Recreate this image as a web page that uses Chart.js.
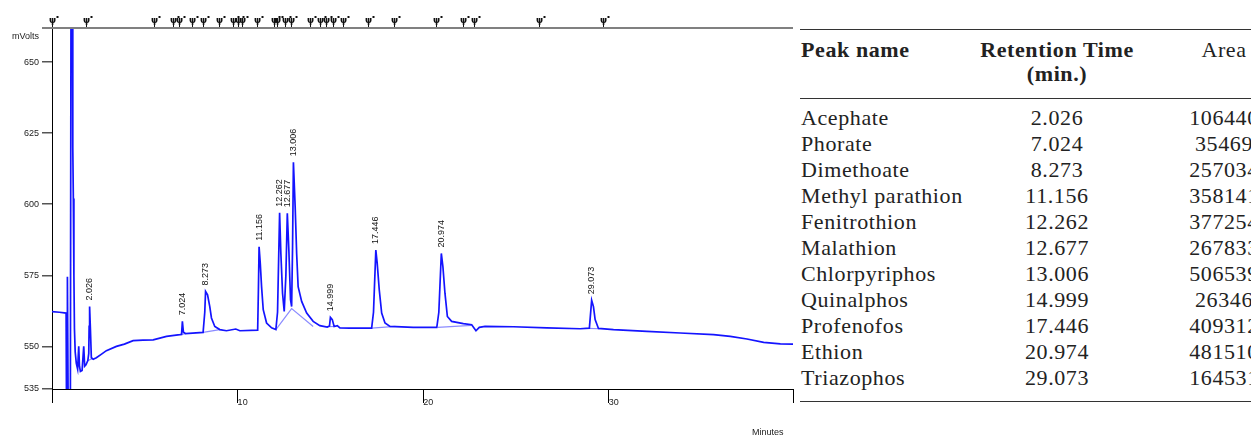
<!DOCTYPE html>
<html>
<head>
<meta charset="utf-8">
<script src="https://cdn.jsdelivr.net/npm/chart.js@4.4.0/dist/chart.umd.min.js"></script>
<style>
    html, body { margin: 0; padding: 0; background: #fff; }
    body { width: 1251px; height: 439px; overflow: hidden; position: relative; }
    #chartBox { position: absolute; left: 0; top: 0; width: 800px; height: 439px; }
    #peakTable {
        position: absolute; left: 800px; top: 29px; width: 504px;
        table-layout: fixed; border-collapse: collapse;
        font-family: "Liberation Serif", serif; font-size: 22px; letter-spacing: 0.6px; color: #222;
        border-top: 1.5px solid #333; border-bottom: 1.5px solid #333;
    }
    #peakTable th { font-weight: bold; vertical-align: top; line-height: 24px; padding: 8px 0 12px 0; border-bottom: 1.5px solid #333; }
    #peakTable th.plain { font-weight: normal; }
    #peakTable td { height: 26px; line-height: 26px; padding: 0; white-space: nowrap; }
    #peakTable tbody tr:first-child td { padding-top: 6px; }
    #peakTable tbody tr:last-child td { padding-bottom: 10px; }
    .c1 { width: 170px; text-align: left; padding-left: 1px !important; }
    .c2 { width: 174px; text-align: center; }
    .c3 { width: 160px; text-align: center; }
</style>
</head>
<body>
<div id="chartBox"><canvas id="chromChart"></canvas></div>
<table id="peakTable">
    <colgroup><col style="width:170px"><col style="width:174px"><col style="width:160px"></colgroup>
    <thead>
        <tr><th class="c1">Peak name</th><th class="c2">Retention Time<br>(min.)</th><th class="c3 plain">Area</th></tr>
    </thead>
    <tbody id="peakRows"></tbody>
</table>
<script>
(function() {
    'use strict';

    // Chromatogram trace (minutes, mVolts)
    const traceTimes = [
        0.00, 0.40, 0.76, 0.78, 0.81, 0.83, 0.87, 0.99, 1.03, 1.09,
        1.12, 1.15, 1.18, 1.21, 1.25, 1.31, 1.38, 1.44, 1.48, 1.53,
        1.62, 1.71, 1.76, 1.83, 1.93, 1.98, 2.00, 2.026, 2.07, 2.12,
        2.22, 2.39, 2.65, 2.93, 3.47, 3.90, 4.37, 4.90, 5.45, 6.17,
        6.89, 6.98, 7.024, 7.08, 7.19, 8.14, 8.23, 8.273, 8.38, 8.50,
        8.59, 8.77, 9.04, 9.40, 9.90, 10.12, 11.08, 11.12, 11.156, 11.22,
        11.29, 11.38, 11.56, 11.83, 12.06, 12.15, 12.262, 12.33, 12.42, 12.51,
        12.60, 12.677, 12.76, 12.85, 12.91, 12.96, 13.006, 13.10, 13.18, 13.26,
        13.45, 13.72, 14.07, 14.43, 14.83, 14.95, 14.999, 15.10, 15.20, 15.37,
        15.51, 16.05, 17.22, 17.32, 17.446, 17.52, 17.63, 17.76, 17.94, 18.21,
        19.46, 20.73, 20.84, 20.974, 21.06, 21.17, 21.30, 21.53, 22.16, 22.61,
        22.84, 23.02, 23.33, 24.86, 26.66, 28.45, 28.95, 29.073, 29.17, 29.26,
        29.44, 30.25, 32.05, 33.84, 35.64, 36.54, 37.44, 38.34, 39.24, 39.92
    ];
    const traceValues = [
        562.2, 562.0, 561.7, 530, 530, 574.5, 530, 530, 700, 700,
        620, 602, 575, 556, 548, 544, 542, 550, 543, 541.2,
        541.5, 550, 543, 543.5, 545, 547.5, 557, 564, 556, 546,
        545.5, 546, 547.2, 548.5, 550, 550.8, 552, 552.2, 552.3, 553.5,
        554.1, 554.2, 558.8, 555, 554.5, 554.9, 562, 569.3, 568.1, 564,
        560, 557, 555.9, 555.5, 556.1, 555.5, 555.7, 570, 585, 579.2,
        571, 562.9, 558.2, 556.5, 555.9, 562, 597, 582.7, 568.7, 562.3,
        575, 596.8, 583.9, 566.4, 564, 585, 614.8, 599.1, 582.7, 571,
        565.8, 561.7, 558.8, 557.3, 556.8, 557.2, 560.2, 559.4, 557, 557.3,
        556.5, 556.4, 556.4, 562, 583.9, 579.2, 569.9, 561.7, 558.2, 557,
        556.7, 556.7, 562, 582.7, 578, 568.7, 560.5, 558.8, 558, 557.6,
        555.5, 556.7, 557, 556.9, 556.5, 556.2, 556.4, 566.2, 564, 559.4,
        556.3, 555.9, 555.3, 554.7, 554.1, 553.5, 552.6, 551.4, 550.9, 550.8
    ];

    // Integration baseline segments (null splits the segments)
    const baseTimes = [1.93, 2.22, null, 6.95, 7.19, null, 8.14, 9.04, null, 12.06, 12.91, 14.07, null, 14.90, 15.20, null, 17.22, 18.50, null, 20.78, 22.60, null, 28.90, 29.50];
    const baseValues = [545, 545.8, null, 554.2, 554.5, null, 554.9, 555.9, null, 555.9, 563.3, 557.0, null, 556.9, 557.0, null, 556.4, 557.0, null, 556.7, 557.4, null, 556.3, 556.2];

    // Peak labels and their apex heights
    const peakLabels = ['2.026', '7.024', '8.273', '11.156', '12.262', '12.677', '13.006', '14.999', '17.446', '20.974', '29.073'];
    const peakTops = [564, 558.8, 569.3, 585, 597, 596.8, 614.8, 560.2, 583.9, 582.7, 566.2];

    // Integration event markers along the top edge (minutes)
    const markerTimes = [0.0, 1.82, 5.48, 6.51, 6.84, 7.53, 8.13, 8.99, 9.74, 10.01, 10.23, 11.04, 11.95, 12.12, 12.55, 12.87, 13.90, 14.44, 14.76, 15.14, 15.68, 17.02, 18.42, 20.68, 22.14, 22.74, 26.24, 29.69];

    // Axis ticks
    const yTickValues = [535, 550, 575, 600, 625, 650];
    const xTickValues = [0, 10, 20, 30, 39.92];
    const xTickLabels = ['', '10', '20', '30', ''];

    // Table
    const peakNames = ['Acephate', 'Phorate', 'Dimethoate', 'Methyl parathion', 'Fenitrothion', 'Malathion', 'Chlorpyriphos', 'Quinalphos', 'Profenofos', 'Ethion', 'Triazophos'];
    const retentionTimes = ['2.026', '7.024', '8.273', '11.156', '12.262', '12.677', '13.006', '14.999', '17.446', '20.974', '29.073'];
    const areas = ['106440', '35469', '257034', '358141', '377254', '267833', '506539', '26346', '409312', '481510', '164531'];

    const rows = document.getElementById('peakRows');
    peakNames.forEach(function(name, i) {
        const tr = document.createElement('tr');
        tr.innerHTML = '<td class="c1">' + name + '</td><td class="c2">' + retentionTimes[i] + '</td><td class="c3">' + areas[i] + '</td>';
        rows.appendChild(tr);
    });

    const smallFont = '9px "Liberation Sans", Arial, sans-serif';

    // Draws peak labels, the top event strip and axis titles
    const annotations = {
        id: 'annotations',
        afterDraw(chart) {
            const ctx = chart.ctx;
            const x = chart.scales.x;
            const y = chart.scales.y;
            const area = chart.chartArea;
            ctx.save();

            // top event strip
            ctx.strokeStyle = '#808080';
            ctx.lineWidth = 2;
            ctx.beginPath();
            ctx.moveTo(42, area.top);
            ctx.lineTo(area.right, area.top);
            ctx.stroke();
            ctx.fillStyle = '#111';
            ctx.strokeStyle = '#111';
            ctx.lineWidth = 1;
            ctx.font = 'bold 9px "DejaVu Sans", sans-serif';
            ctx.textAlign = 'center';
            ctx.textBaseline = 'alphabetic';
            markerTimes.forEach(function(t) {
                const px = Math.round(x.getPixelForValue(t)) + 0.5;
                ctx.beginPath();
                ctx.moveTo(px, area.top - 1);
                ctx.lineTo(px, area.top - 4);
                ctx.stroke();
                ctx.fillText('\u03C8', px, area.top - 5);
                ctx.fillRect(px + 4, area.top - 12, 2, 2);
            });

            // peak labels, rotated
            ctx.fillStyle = '#111';
            ctx.font = smallFont;
            ctx.textAlign = 'left';
            ctx.textBaseline = 'middle';
            peakLabels.forEach(function(label, i) {
                const px = x.getPixelForValue(parseFloat(label));
                const py = y.getPixelForValue(peakTops[i]) - 6;
                ctx.save();
                ctx.translate(px, py);
                ctx.rotate(-Math.PI / 2);
                ctx.fillText(label, 0, 0);
                ctx.restore();
            });

            // axis titles
            ctx.fillStyle = '#222';
            ctx.textBaseline = 'middle';
            ctx.textAlign = 'left';
            ctx.fillText('mVolts', 12, 37);
            ctx.fillText('Minutes', 752, 433);
            ctx.restore();
        }
    };

    const ctx = document.getElementById('chromChart').getContext('2d');
    new Chart(ctx, {
        type: 'line',
        data: {
            datasets: [{
                label: 'Signal',
                data: traceTimes.map(function(t, i) { return { x: t, y: traceValues[i] }; }),
                borderColor: '#1414ff',
                borderWidth: 1.7,
                pointRadius: 0,
                tension: 0
            }, {
                label: 'Baseline',
                data: baseTimes.map(function(t, i) { return { x: t, y: baseValues[i] }; }),
                borderColor: 'rgba(110, 110, 255, 0.8)',
                borderWidth: 1.2,
                pointRadius: 0,
                spanGaps: false,
                tension: 0
            }]
        },
        options: {
            responsive: true,
            maintainAspectRatio: false,
            animation: false,
            layout: { padding: { left: 0, right: 7, top: 28, bottom: 0 } },
            scales: {
                x: {
                    type: 'linear',
                    min: 0,
                    max: 39.92,
                    afterBuildTicks: function(scale) {
                        scale.ticks = xTickValues.map(function(v) { return { value: v }; });
                    },
                    afterFit: function(scale) { scale.height = 50; },
                    grid: { drawOnChartArea: false, tickLength: 14, color: '#000', lineWidth: 1 },
                    border: { color: '#000', width: 1 },
                    ticks: {
                        align: 'start',
                        padding: -6,
                        maxRotation: 0,
                        autoSkip: false,
                        color: '#222',
                        font: { family: '"Liberation Sans", Arial, sans-serif', size: 9 },
                        callback: function(value, index) { return xTickLabels[index]; }
                    }
                },
                y: {
                    type: 'linear',
                    min: 535,
                    max: 662,
                    afterBuildTicks: function(scale) {
                        scale.ticks = yTickValues.map(function(v) { return { value: v }; });
                    },
                    afterFit: function(scale) { scale.width = 52; },
                    grid: { drawOnChartArea: false, tickLength: 10, color: '#555', lineWidth: 1.5 },
                    border: { color: '#000', width: 1 },
                    ticks: {
                        padding: 3,
                        color: '#222',
                        font: { family: '"Liberation Sans", Arial, sans-serif', size: 9 }
                    }
                }
            },
            plugins: {
                legend: { display: false },
                tooltip: { enabled: false }
            }
        },
        plugins: [annotations]
    });
})();
</script>
</body>
</html>
